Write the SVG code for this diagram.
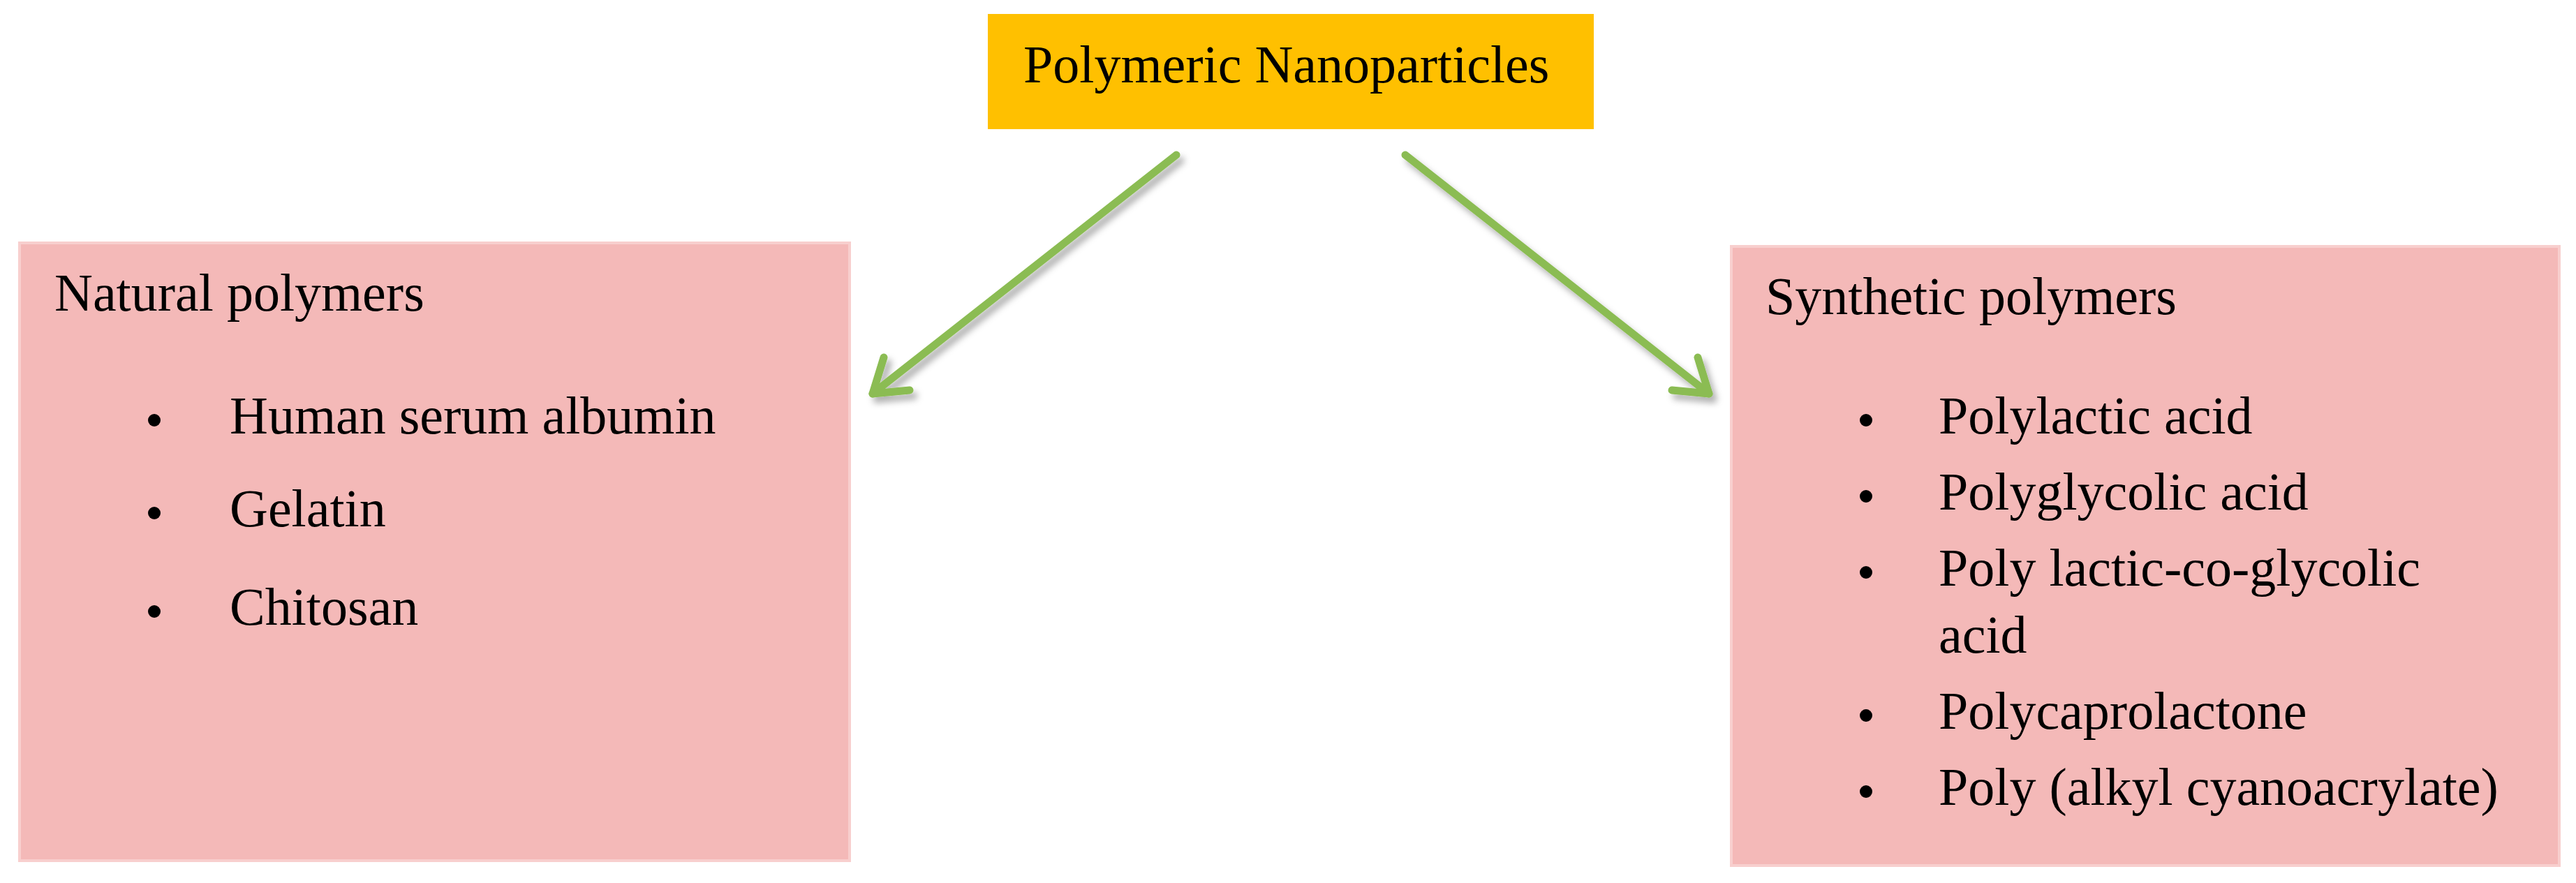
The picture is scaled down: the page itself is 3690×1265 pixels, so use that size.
<svg xmlns="http://www.w3.org/2000/svg" width="3690" height="1265" viewBox="0 0 3690 1265">
<style>
text{font-family:"Liberation Serif","Times New Roman",serif;font-size:76px;fill:#000}
.box{fill:#F4B9B8;stroke:#F8CFCE;stroke-width:4}
.conn{stroke:#8BBC52;stroke-width:11;fill:none;stroke-linecap:round;stroke-linejoin:round}
</style>
<defs>
<filter id="sh" x="-20%" y="-20%" width="140%" height="140%"><feDropShadow dx="6" dy="8" stdDeviation="5" flood-color="#000" flood-opacity="0.3"/></filter>
</defs>
<g id="top"><rect x="1415" y="20" width="868" height="165" fill="#FFC000"/><text x="1466" y="118">Polymeric Nanoparticles</text></g>
<g id="natural"><rect class="box" x="28" y="348" width="1189" height="885"/>
<text x="78" y="445">Natural polymers</text>
<g><circle cx="221" cy="602" r="9"/><text x="329" y="621">Human serum albumin</text></g>
<g><circle cx="221" cy="735" r="9"/><text x="329" y="754">Gelatin</text></g>
<g><circle cx="221" cy="876" r="9"/><text x="329" y="895">Chitosan</text></g>
</g>
<g id="synthetic"><rect class="box" x="2480" y="353" width="1186" height="887"/>
<text x="2529" y="450">Synthetic polymers</text>
<g><circle cx="2673" cy="602" r="9"/><text x="2777" y="621">Polylactic acid</text></g>
<g><circle cx="2673" cy="711" r="9"/><text x="2777" y="730">Polyglycolic acid</text></g>
<g><circle cx="2673" cy="820" r="9"/><text x="2777" y="839">Poly lactic-co-glycolic</text><text x="2777" y="935">acid</text></g>
<g><circle cx="2673" cy="1025" r="9"/><text x="2777" y="1044">Polycaprolactone</text></g>
<g><circle cx="2673" cy="1134" r="9"/><text x="2777" y="1153">Poly (alkyl cyanoacrylate)</text></g>
</g>
<g id="connectors" filter="url(#sh)">
<path class="conn" d="M1685 222 L1250 564"/><path class="conn" d="M1266 512 L1250 564 L1303 559"/>
<path class="conn" d="M2013 222 L2448 564"/><path class="conn" d="M2432 512 L2448 564 L2395 559"/>
</g>
</svg>
